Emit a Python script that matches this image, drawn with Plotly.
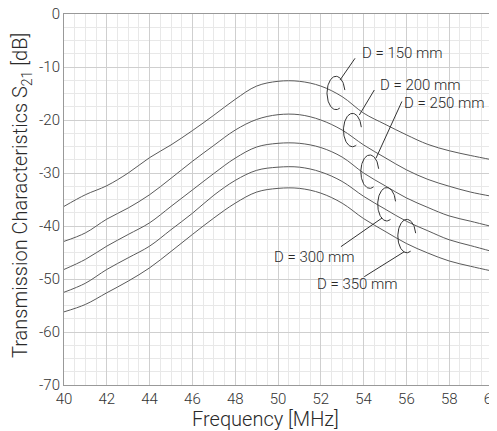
import numpy as np
import plotly.graph_objects as go

# ---------------- data ----------------
freq_mhz = [40, 41, 42, 43, 44, 45, 46, 47, 48, 49, 50, 51, 52, 53, 54, 55, 56, 57, 58, 59, 60]
s21_d150 = [-36.3, -34.1, -32.4, -30.0, -27.1, -24.7, -22.0, -19.1, -16.1, -13.6, -12.7,
            -12.7, -13.6, -15.6, -18.7, -20.8, -22.8, -24.6, -25.8, -26.7, -27.5]
s21_d200 = [-42.9, -41.3, -38.7, -36.6, -34.1, -31.0, -27.8, -24.8, -21.9, -19.9, -19.0,
            -19.0, -20.0, -21.9, -24.7, -27.1, -29.4, -31.2, -32.5, -33.6, -34.4]
s21_d250 = [-48.2, -46.3, -43.8, -41.6, -39.4, -36.3, -33.2, -30.1, -27.2, -25.1, -24.4,
            -24.4, -25.2, -27.0, -30.0, -32.4, -34.7, -36.5, -38.1, -39.1, -40.1]
s21_d300 = [-52.5, -50.8, -48.2, -46.0, -43.8, -40.7, -37.6, -34.2, -31.4, -29.5, -28.9,
            -28.9, -29.8, -31.6, -34.4, -36.8, -39.1, -40.9, -42.6, -43.7, -44.8]
s21_d350 = [-56.2, -54.8, -52.6, -50.4, -47.9, -44.8, -41.6, -38.5, -35.7, -33.6, -32.9,
            -32.9, -33.8, -35.7, -38.6, -41.0, -43.3, -45.1, -46.6, -47.6, -48.5]
series_names = ["D = 150 mm", "D = 200 mm", "D = 250 mm", "D = 300 mm", "D = 350 mm"]
x_ticks = [40, 42, 44, 46, 48, 50, 52, 54, 56, 58, 60]
x_tick_labels = ["40", "42", "44", "46", "48", "50", "52", "54", "56", "58", "60"]
y_ticks = [0, -10, -20, -30, -40, -50, -60, -70]
y_tick_labels = ["0", "-10", "-20", "-30", "-40", "-50", "-60", "-70"]

# ---------------- annotation geometry (data coords) ----------------
ell_center_f = [52.71, 53.48, 54.29, 55.08, 56.02]
ell_center_db = [-14.9, -21.9, -29.75, -35.9, -41.9]
ell_a, ell_b = 0.42, 3.15
leader_start = [(52.9, -12.45), (53.8, -19.06), (54.58, -27.2), (54.86, -38.5), (55.9, -44.85)]
leader_end = [(53.6, -8.36), (54.5, -14.34), (55.79, -16.5), (52.94, -43.9), (54.03, -49.57)]
label_pos = [(53.83, -7.4), (54.66, -13.4), (55.79, -16.8), (53.69, -45.85), (51.74, -50.9)]
label_anchor = ["left", "left", "left", "right", "left"]

FONT = "Roboto"
LINE_COLOR = "#5a5a5a"
TXT = "#2a2a2a"

fig = go.Figure()
for name, ys in zip(series_names, [s21_d150, s21_d200, s21_d250, s21_d300, s21_d350]):
    fig.add_trace(go.Scatter(x=freq_mhz, y=ys, mode="lines", name=name,
                             line=dict(color=LINE_COLOR, width=1, shape="spline", smoothing=1.0),
                             showlegend=False, hoverinfo="skip"))

# open ellipses ("C" shaped)
theta = np.radians(np.linspace(10, 295, 80))
for cf, cd in zip(ell_center_f, ell_center_db):
    fig.add_trace(go.Scatter(x=cf + ell_a * np.cos(theta), y=cd + ell_b * np.sin(theta),
                             mode="lines", line=dict(color="#333333", width=1),
                             showlegend=False, hoverinfo="skip"))

for (x0, y0), (x1, y1) in zip(leader_start, leader_end):
    fig.add_shape(type="line", x0=x0, y0=y0, x1=x1, y1=y1, xref="x", yref="y",
                  line=dict(color="#333333", width=1))

for name, (lx, ly), anc in zip(series_names, label_pos, label_anchor):
    fig.add_annotation(x=lx, y=ly, xref="x", yref="y", text=name, showarrow=False,
                       xanchor=anc, yanchor="middle",
                       font=dict(family=FONT, size=15, color=TXT, weight=300))

# axis titles
fig.add_annotation(x=0.47, y=-0.055, xref="paper", yref="paper", text="Frequency [MHz]",
                   showarrow=False, xanchor="center", yanchor="top",
                   font=dict(family=FONT, size=20, color=TXT, weight=300))
fig.add_annotation(x=-0.1, y=0.51, xref="paper", yref="paper",
                   text="Transmission Characteristics S<sub>21</sub> [dB]", textangle=-90,
                   showarrow=False, xanchor="center", yanchor="middle",
                   font=dict(family=FONT, size=20, color=TXT, weight=300))

fig.update_xaxes(range=[40, 60], tickvals=x_ticks, ticktext=x_tick_labels, ticks="",
                 showline=True, linecolor="#999999", linewidth=1, mirror=True,
                 showgrid=True, gridcolor="#cfcfcf", gridwidth=1,
                 minor=dict(dtick=0.5, showgrid=True, gridcolor="#e8e8e8", gridwidth=1),
                 zeroline=False, automargin=False, ticklabeloverflow="allow",
                 tickfont=dict(family=FONT, size=15, color="#333333", weight=300))
fig.update_yaxes(range=[-70, 0], tickvals=y_ticks, ticktext=y_tick_labels, ticks="",
                 showline=True, linecolor="#999999", linewidth=1, mirror=True,
                 showgrid=True, gridcolor="#cfcfcf", gridwidth=1,
                 minor=dict(dtick=2.5, showgrid=True, gridcolor="#e8e8e8", gridwidth=1),
                 zeroline=False, automargin=False, ticklabeloverflow="allow",
                 tickfont=dict(family=FONT, size=15, color="#333333", weight=300))

# page body has an 8px margin, so the plot is offset to land where the reference has it
fig.update_layout(width=497, height=431, margin=dict(l=56, r=13, t=6, b=54),
                  plot_bgcolor="white", paper_bgcolor="white", showlegend=False)

fig.write_html("out.html")
